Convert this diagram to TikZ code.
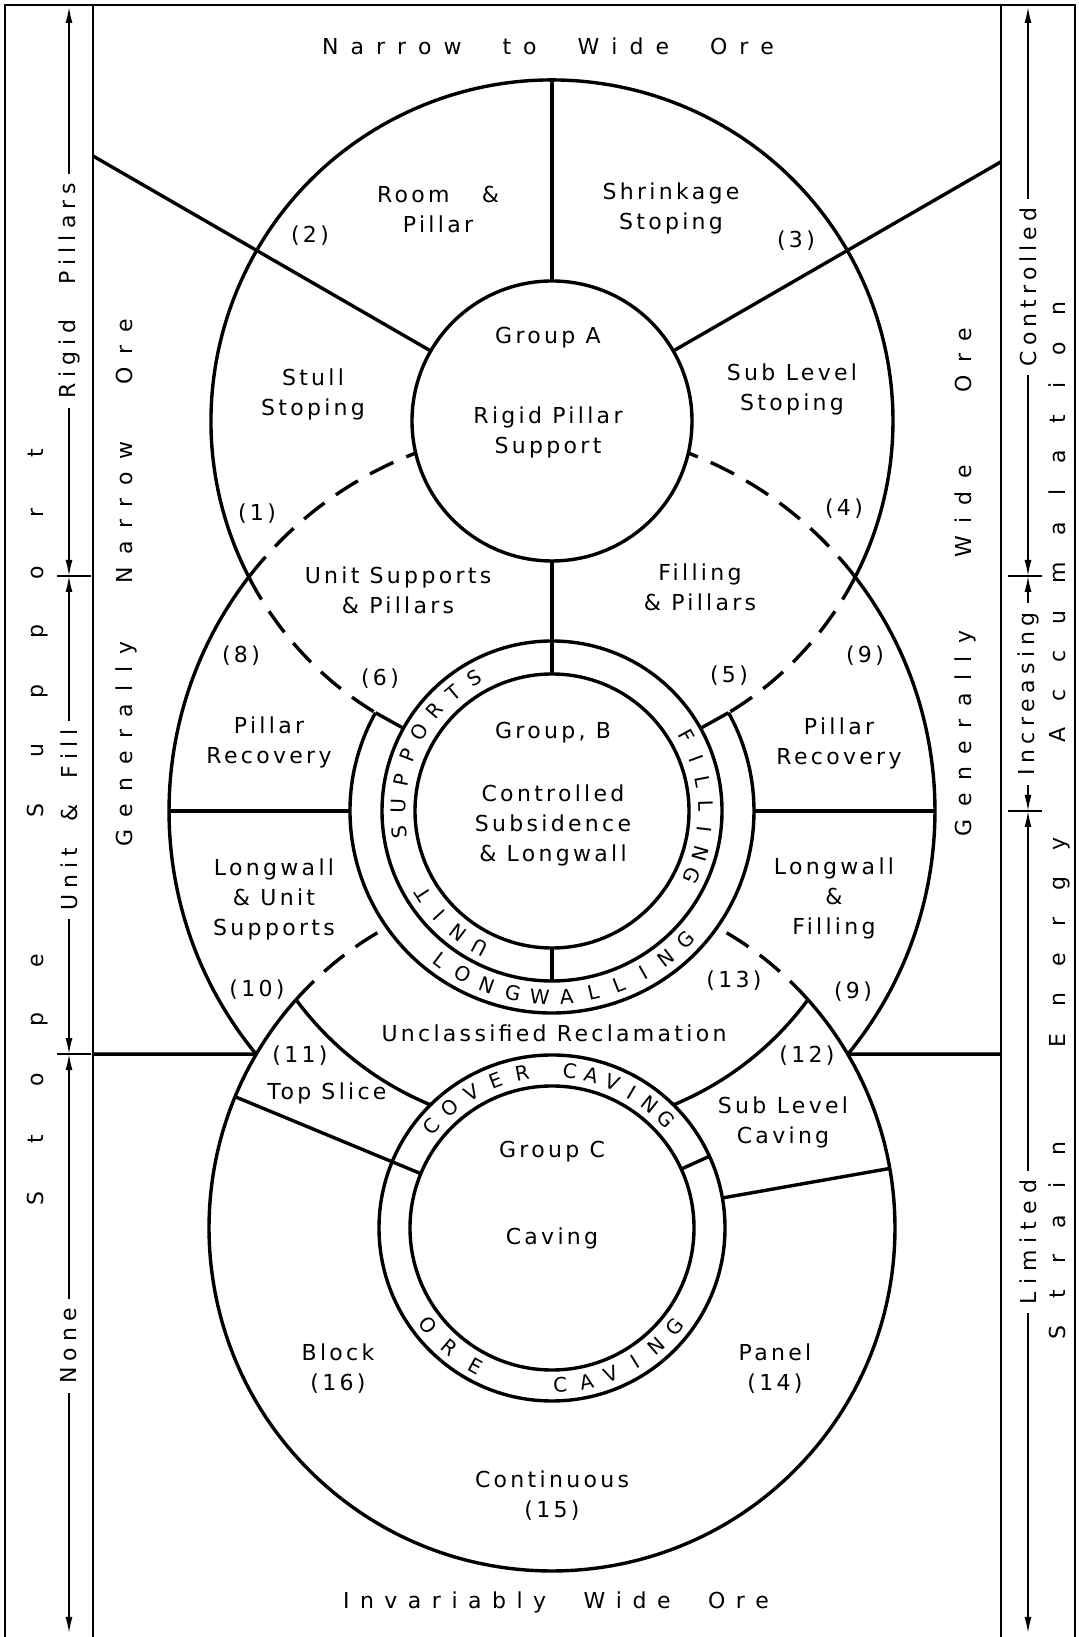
\documentclass[tikz,border=0pt]{standalone}
\usepackage{fontspec}
\setmainfont{DejaVu Sans}
\newfontfamily\labfont[LetterSpace=15]{DejaVu Sans}
\usetikzlibrary{arrows.meta,calc}
% manual letter spacing: tracking, word gap, letters ("|" = word gap)
\newcommand\ls[3]{\def\lstrk{#1}\def\lsgap{#2}\lsloop#3\relax}
\def\lsloop#1{%
  \ifx#1\relax\unkern\let\lsnext\relax
  \else\ifx#1|\hspace*{\lsgap}\else#1\kern\lstrk\fi
  \let\lsnext\lsloop\fi\lsnext}
\newcommand\fb[1]{\makebox[59.5pt]{#1}}
\begin{document}
\begin{tikzpicture}[x=1pt,y=1pt,
  ln/.style={line width=3.4pt},
  dsh/.style={line width=3.4pt, dash pattern=on 26pt off 14pt},
  frm/.style={line width=2.8pt},
  lab/.style={font=\labfont\fontsize{22}{30}\selectfont, align=center, inner sep=0pt},
  side/.style={font=\fontsize{22}{26}\selectfont, inner sep=0pt},
  ringtxt/.style={font=\fontsize{20}{24}\selectfont, inner sep=0pt},
  arr/.style={line width=1.5pt},
  mlab/.style={font=\fontsize{22}{26}\selectfont, rotate=90, fill=white, inner xsep=9pt, inner ysep=3pt},
  >={Latex[length=16pt,width=7pt]}
]
\useasboundingbox (0,0) rectangle (1078,1637);
% centres
\coordinate (A) at (552,1216);
\coordinate (B) at (552,826);
\coordinate (C) at (552,409);
% frame
\draw[frm] (5,0) -- (5,1632) -- (1075,1632) -- (1075,0);
\draw[frm] (93,0) -- (93,1632);
\draw[frm] (1001,0) -- (1001,1632);
% margin arrows
\coordinate (L0) at (69,1630); \coordinate (L1) at (69,1061);
\coordinate (L2) at (69,582.9); \coordinate (L3) at (69,4);
\coordinate (R0) at (1028,1630); \coordinate (R1) at (1028,1061);
\coordinate (R2) at (1028,826); \coordinate (R3) at (1028,4);
\draw[arr,<->] (L0) -- (L1);
\draw[arr,<->] (L1) -- (L2);
\draw[arr,<->] (L2) -- (L3);
\draw[arr,<->] (R0) -- (R1);
\draw[arr,<->] (R1) -- (R2);
\draw[arr,<->] (R2) -- (R3);
\draw[arr] ($(L1)+(-12,0)$) -- ($(L1)+(22,0)$);
\draw[arr] ($(L2)+(-12,0)$) -- ($(L2)+(22,0)$);
\draw[arr] ($(R1)+(-20,0)$) -- ($(R1)+(14,0)$);
\draw[arr] ($(R2)+(-20,0)$) -- ($(R2)+(14,0)$);
\node[mlab] (rp) at (69,1346) {\ls{6pt}{29pt}{Rigid|Pillars}};
\node[mlab] (uf) at (69,817) {\ls{6pt}{20pt}{Unit|\&|Fill}};
\node[mlab] (no) at (69,291) {\ls{6pt}{0pt}{None}};
\node[mlab] (co) at (1028,1350) {\ls{5pt}{0pt}{Controlled}};
\node[mlab] (inc) at (1028,943) {\ls{5.5pt}{0pt}{Increasing}};
\node[mlab] (lim) at (1028,395) {\ls{7pt}{0pt}{Limited}};
% outer spaced texts
\node[side, rotate=90] (ss) at (38,811) {\fb S\fb t\fb o\fb p\fb e\hspace*{90.5pt}\fb S\fb u\fb p\fb p\fb o\fb r\fb t};
\node[side, rotate=90] (sea) at (1059,816.5) {\ls{26.5pt}{68pt}{Strain|Energy|Accumalation}};
\node[side, rotate=90] (gno) at (126,1054) {\ls{12.5pt}{45pt}{Generally|Narrow|Ore}};
\node[side, rotate=90] (gwo) at (965,1055) {\ls{12.5pt}{60pt}{Generally|Wide|Ore}};
\node[side] (ntw) at (548,1591) {\ls{12pt}{29pt}{Narrow|to|Wide|Ore}};
\node[side] (iwo) at (556,35) {\ls{10.5pt}{27pt}{Invariably|Wide|Ore}};
% ---------- Group A
\draw[ln] (A) circle[radius=140];
\draw[ln] (A) ++(207.2:341) arc[start angle=207.2, end angle=-27.2, radius=341];
\draw[dsh] (A) ++(207.2:341) arc[start angle=207.2, end angle=238.85, radius=341];
\draw[dsh] (A) ++(-27.2:341) arc[start angle=-27.2, end angle=-58.85, radius=341];
\coordinate (Al) at (93,1481); \coordinate (Ar) at (1001,1475.2);
\draw[ln] ($(A)+(150:140)$) -- (Al);
\draw[ln] ($(A)+(30:140)$) -- (Ar);
\draw[ln] ($(A)+(0,341)$) -- ($(A)+(0,140)$);
\draw[ln] ($(A)+(0,-140)$) -- ($(B)+(0,137)$);
% ---------- Group B
\draw[ln] (B) circle[radius=137];
\draw[ln] (B) circle[radius=170];
\draw[ln] (B) ++(150.9:202) arc[start angle=150.9, end angle=389.1, radius=202];
\draw[ln] ($(B)+(150.9:170)$) -- ($(B)+(150.9:202)$);
\draw[ln] ($(B)+(29.1:170)$) -- ($(B)+(29.1:202)$);
\draw[ln] ($(B)+(0,-137)$) -- ($(B)+(0,-170)$);
\draw[ln] ($(B)+(-383,0)$) -- ($(B)+(-202,0)$);
\draw[ln] ($(B)+(202,0)$) -- ($(B)+(383,0)$);
\draw[ln] (B) ++(142.3:383) arc[start angle=142.3, end angle=219.4, radius=383];
\draw[ln] (B) ++(37.7:383) arc[start angle=37.7, end angle=-39.4, radius=383];
\draw[dsh] (B) ++(142.3:383) arc[start angle=142.3, end angle=110.85, radius=383];
\draw[dsh] (B) ++(37.7:383) arc[start angle=37.7, end angle=69.15, radius=383];
\draw[ln] (B) ++(216.4:318) arc[start angle=216.4, end angle=247.6, radius=318];
\draw[ln] (B) ++(323.6:318) arc[start angle=323.6, end angle=292.4, radius=318];
\coordinate (Xl) at ($(B)+(219.4:383)$);
\coordinate (Xr) at ($(B)+(-39.4:383)$);
\draw[ln] (93,582.9) -- (Xl);
\draw[ln] (Xr) -- (1001,582.9);
% ---------- Group C
\draw[ln] (C) circle[radius=142];
\draw[ln] (C) circle[radius=173];
\draw[ln] (C) ++(138.3:343) arc[start angle=138.3, end angle=401.7, radius=343];
\draw[dsh] (C) ++(138.3:343) arc[start angle=138.3, end angle=118.8, radius=343];
\draw[dsh] (C) ++(41.7:343) arc[start angle=41.7, end angle=61.2, radius=343];
\draw[ln] ($(C)+(157.5:142)$) -- ($(C)+(157.5:343)$);
\draw[ln] ($(C)+(24.5:142)$) -- ($(C)+(24.5:173)$);
\draw[ln] ($(C)+(10:173)$) -- ($(C)+(10:343)$);
% ---------- ring texts
\foreach \ch [count=\i from 0] in {S,U,P,P,O,R,T,S}{
  \pgfmathsetmacro\ang{188-\i*9.7}
  \node[ringtxt, rotate=\ang-90] (sp\i) at ($(B)+(\ang:154)$) {\ch};}
\foreach \ch [count=\i from 0] in {F,I,L,L,I,N,G}{
  \pgfmathsetmacro\ang{29-\i*9}
  \node[ringtxt, rotate=\ang-90] (fi\i) at ($(B)+(\ang:154)$) {\ch};}
\foreach \ch [count=\i from 0] in {U,N,I,T}{
  \pgfmathsetmacro\ang{242-\i*9.7}
  \node[ringtxt, rotate=\ang-90] (un\i) at ($(B)+(\ang:154)$) {\ch};}
\foreach \ch [count=\i from 0] in {L,O,N,G,W,A,L,L,I,N,G}{
  \pgfmathsetmacro\ang{233+\i*8.3}
  \node[ringtxt, rotate=\ang+90] (lw\i) at ($(B)+(\ang:186)$) {\ch};}
\foreach \ch [count=\i from 0] in {C,O,V,E,R}{
  \pgfmathsetmacro\ang{140-\i*9.75}
  \node[ringtxt, rotate=\ang-90] (cv\i) at ($(C)+(\ang:157.5)$) {\ch};}
\foreach \ch [count=\i from 0] in {C,A,V,I,N,G}{
  \pgfmathsetmacro\ang{83.5-\i*8}
  \node[ringtxt, rotate=\ang-90] (ca\i) at ($(C)+(\ang:157.5)$) {\ch};}
\foreach \ch [count=\i from 0] in {O,R,E}{
  \pgfmathsetmacro\ang{218+\i*11.5}
  \node[ringtxt, rotate=\ang+90] (or\i) at ($(C)+(\ang:157.5)$) {\ch};}
\foreach \ch [count=\i from 0] in {C,A,V,I,N,G}{
  \pgfmathsetmacro\ang{273+\i*9.6}
  \node[ringtxt, rotate=\ang+90] (oc\i) at ($(C)+(\ang:157.5)$) {\ch};}
% ---------- labels
\node[lab] (rop) at (438,1427) {Room \quad\&\\Pillar};
\node[lab] (shr) at (671,1429) {Shrinkage\\Stoping};
\node[lab] (n2) at (310,1401) {(2)};
\node[lab] (n3) at (796,1396) {(3)};
\node[lab] (stu) at (313,1243) {Stull\\Stoping};
\node[lab] (sls) at (792,1248) {Sub Level\\Stoping};
\node[lab] (n1) at (257,1123) {(1)};
\node[lab] (n4) at (844,1128) {(4)};
\node[lab] (ga) at (548,1299) {Group A};
\node[lab] (rps) at (548,1205) {Rigid Pillar\\Support};
\node[lab] (usp) at (398,1047) {Unit Supports\\\& Pillars};
\node[lab] (fp) at (700,1050) {Filling\\\& Pillars};
\node[lab] (n8) at (241,981) {(8)};
\node[lab] (n6) at (380,958) {(6)};
\node[lab] (n5) at (729,961) {(5)};
\node[lab] (n9a) at (865,981) {(9)};
\node[lab] (prl) at (269,895) {Pillar\\Recovery};
\node[lab] (prr) at (839,894) {Pillar\\Recovery};
\node[lab] (lwu) at (274,738) {Longwall\\\& Unit\\Supports};
\node[lab] (lwf) at (834,739) {Longwall\\\&\\Filling};
\node[lab] (gb) at (553,904) {Group, B};
\node[lab] (csl) at (553,812) {Controlled\\Subsidence\\\& Longwall};
\node[lab] (n10) at (257,647) {(10)};
\node[lab] (n13) at (734,656) {(13)};
\node[lab] (n9b) at (853,645) {(9)};
\node[lab] (ucr) at (554,604) {Unclassified Reclamation};
\node[lab] (n11) at (300,581) {(11)};
\node[lab] (n12) at (807,581) {(12)};
\node[lab] (tsl) at (327,544) {Top Slice};
\node[lab] (slc) at (783,515) {Sub Level\\Caving};
\node[lab] (gc) at (552,485) {Group C};
\node[lab] (cav) at (552,399) {Caving};
\node[lab] (blk) at (338,268) {Block\\(16)};
\node[lab] (pan) at (775,268) {Panel\\(14)};
\node[lab] (con) at (552,141) {Continuous\\(15)};
\end{tikzpicture}
\end{document}
